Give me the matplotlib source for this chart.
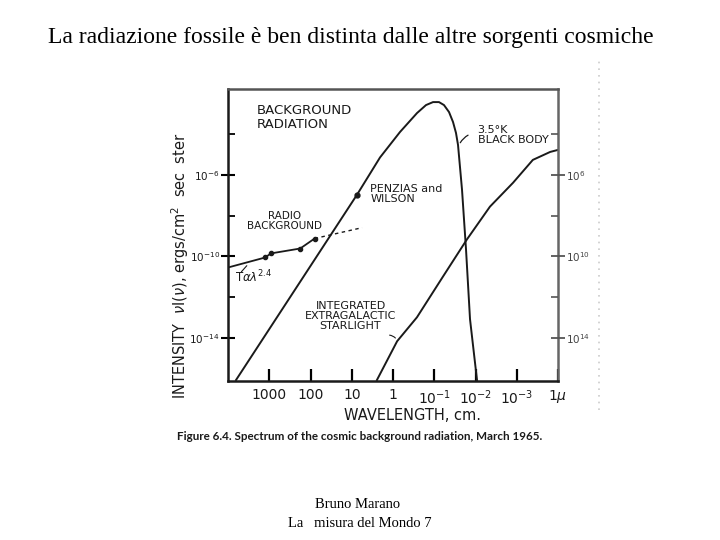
import numpy as np
import matplotlib
matplotlib.use('Agg')
import matplotlib.pyplot as plt
from matplotlib.ticker import NullFormatter

# --- data (log10 of wavelength in cm, log10 of intensity) ---
bb_log_wl = [3.806, 0.873, 0.315, -0.170, -0.582, -0.800, -0.970, -1.115, -1.236,
             -1.358, -1.455, -1.527, -1.576, -1.673, -1.770, -1.867, -2.036]
bb_log_i = [-16.05, -6.976, -5.150, -3.902, -2.976, -2.585, -2.439, -2.439, -2.585,
            -2.927, -3.415, -3.951, -4.537, -6.732, -9.659, -13.073, -16.05]

star_log_wl = [0.39, -0.10, -0.58, -1.20, -1.79, -2.35, -2.91, -3.39, -3.81, -4.00]
star_log_i = [-16.05, -14.15, -12.98, -11.02, -9.17, -7.56, -6.39, -5.27, -4.88, -4.78]

radio_log_wl = [4.00, 3.10, 2.96, 2.25, 1.90]
radio_log_i = [-10.54, -10.05, -9.85, -9.61, -9.12]
radio_ext_log_wl = [1.90, 0.75]
radio_ext_log_i = [-9.12, -8.59]

pw_log_wl = [0.873]
pw_log_i = [-6.976]

x_ticks = [3, 2, 1, 0, -1, -2, -3, -4]
x_tick_labels = ['1000', '100', '10', '1', '10$^{-1}$', '10$^{-2}$', '10$^{-3}$', '1$\\mu$']
y_major = [-6, -10, -14]
y_major_labels = ['10$^{-6}$', '10$^{-10}$', '10$^{-14}$']
y_right_labels = ['10$^{6}$', '10$^{10}$', '10$^{14}$']
y_minor = [-4, -8, -12]

ink = '#1a1a1a'
p10 = lambda v: np.power(10.0, np.asarray(v))

fig = plt.figure(figsize=(7.2, 5.4), dpi=100)
ax = fig.add_axes([0.3167, 0.2944, 0.4583, 0.5407])

ax.plot(p10(bb_log_wl), p10(bb_log_i), color=ink, lw=1.4)
ax.plot(p10(star_log_wl), p10(star_log_i), color=ink, lw=1.4)
ax.plot(p10(radio_log_wl), p10(radio_log_i), color=ink, lw=1.3)
ax.plot(p10(radio_ext_log_wl), p10(radio_ext_log_i), color=ink, lw=1.0, ls=(0, (2.5, 2.5)))
ax.plot(p10(radio_log_wl[1:]), p10(radio_log_i[1:]), 'o', color=ink, ms=3)
ax.plot(p10(pw_log_wl), p10(pw_log_i), 'o', color=ink, ms=3.5)

ax.set_xscale('log')
ax.set_yscale('log')
ax.set_xlim(1e4, 1e-4)
ax.set_ylim(10 ** -16.1, 10 ** -1.8)

for s in ax.spines.values():
    s.set_linewidth(1.8)
    s.set_color(ink)
ax.spines['top'].set_color('#555555')
ax.spines['right'].set_color('#666666')

ax.set_xticks(p10(x_ticks))
ax.set_xticklabels(x_tick_labels, fontsize=10, color=ink)
ax.xaxis.set_minor_formatter(NullFormatter())
ax.tick_params(axis='x', which='major', direction='in', length=9, width=1.6, pad=5)
ax.tick_params(axis='x', which='minor', length=0)

ax.set_yticks(p10(y_major))
ax.set_yticklabels(y_major_labels, fontsize=7.5, color=ink)
ax.set_yticks(p10(y_minor), minor=True)
ax.yaxis.set_minor_formatter(NullFormatter())
ax.tick_params(axis='y', which='major', direction='inout', length=10, width=1.5, pad=1)
ax.tick_params(axis='y', which='minor', direction='in', length=5, width=1.3)

axr = ax.twinx()
axr.set_yscale('log')
axr.set_ylim(ax.get_ylim())
axr.set_yticks(p10(y_major))
axr.set_yticklabels(y_right_labels, fontsize=7.5, color='#444444')
axr.set_yticks(p10(y_minor), minor=True)
axr.yaxis.set_minor_formatter(NullFormatter())
axr.tick_params(axis='y', which='major', direction='inout', length=10, width=1.3, pad=1, color='#555555')
axr.tick_params(axis='y', which='minor', direction='in', length=5, width=1.2, color='#555555')
for s in axr.spines.values():
    s.set_visible(False)

ax.text(10 ** 3.3, 10 ** -3.2, 'BACKGROUND\nRADIATION', ha='left', va='center',
        linespacing=1.05, fontsize=9.5, color=ink)
ax.text(10 ** -2.05, 10 ** -4.05, '3.5°K\nBLACK BODY', ha='left', va='center',
        linespacing=1.1, fontsize=8, color=ink)
ax.annotate('', xy=(10 ** -1.6, 10 ** -4.55), xytext=(10 ** -1.88, 10 ** -4.0),
            arrowprops=dict(arrowstyle='-', color=ink, lw=0.9, connectionstyle='arc3,rad=0.2'))
ax.text(10 ** 0.55, 10 ** -6.95, 'PENZIAS and\nWILSON', ha='left', va='center',
        linespacing=1.0, fontsize=8, color=ink)
ax.text(10 ** 2.63, 10 ** -8.25, 'RADIO\nBACKGROUND', ha='center', va='center',
        linespacing=1.05, fontsize=7.5, color=ink)
ax.text(10 ** 3.82, 10 ** -11.0, 'T$\\alpha\\lambda^{2.4}$', ha='left', va='center',
        fontsize=8.5, color=ink)
ax.annotate('', xy=(10 ** 3.5, 10 ** -10.35), xytext=(10 ** 3.72, 10 ** -10.85),
            arrowprops=dict(arrowstyle='-', color=ink, lw=0.8))
ax.text(10 ** 1.03, 10 ** -12.93, 'INTEGRATED\nEXTRAGALACTIC\nSTARLIGHT', ha='center', va='center',
        linespacing=1.0, fontsize=8, color=ink)
ax.annotate('', xy=(10 ** -0.1, 10 ** -14.1), xytext=(10 ** 0.15, 10 ** -13.85),
            arrowprops=dict(arrowstyle='-', color=ink, lw=0.8, connectionstyle='arc3,rad=-0.3'))

ax.set_xlabel('WAVELENGTH, cm.', fontsize=10.5, color=ink)
ax.xaxis.set_label_coords(0.56, -0.092)

fig.text(0.25, 0.508, 'INTENSITY  $\\nu$I($\\nu$), ergs/cm$^2$  sec  ster', rotation=90,
         ha='center', va='center', fontsize=10.5, color=ink)

fig.text(0.4875, 0.93, 'La radiazione fossile è ben distinta dalle altre sorgenti cosmiche',
         ha='center', va='center', fontsize=17, family='Liberation Serif', color='black')
fig.text(0.246, 0.191, 'Figure 6.4. Spectrum of the cosmic background radiation, March 1965.',
         ha='left', va='center', fontsize=8.4, family='Lato', fontweight='bold', color=ink)
fig.text(0.497, 0.065, 'Bruno Marano', ha='center', va='center', fontsize=10.5,
         family='Liberation Serif', color='black')
fig.text(0.5, 0.031, 'La   misura del Mondo 7', ha='center', va='center', fontsize=10.5,
         family='Liberation Serif', color='black')

# faint scan artefact strip on the right
fig.add_artist(plt.Line2D([0.832, 0.832], [0.24, 0.89], color='#cccccc', lw=1.2, ls=(0, (1, 3))))

fig.savefig('out.png', dpi=100)
